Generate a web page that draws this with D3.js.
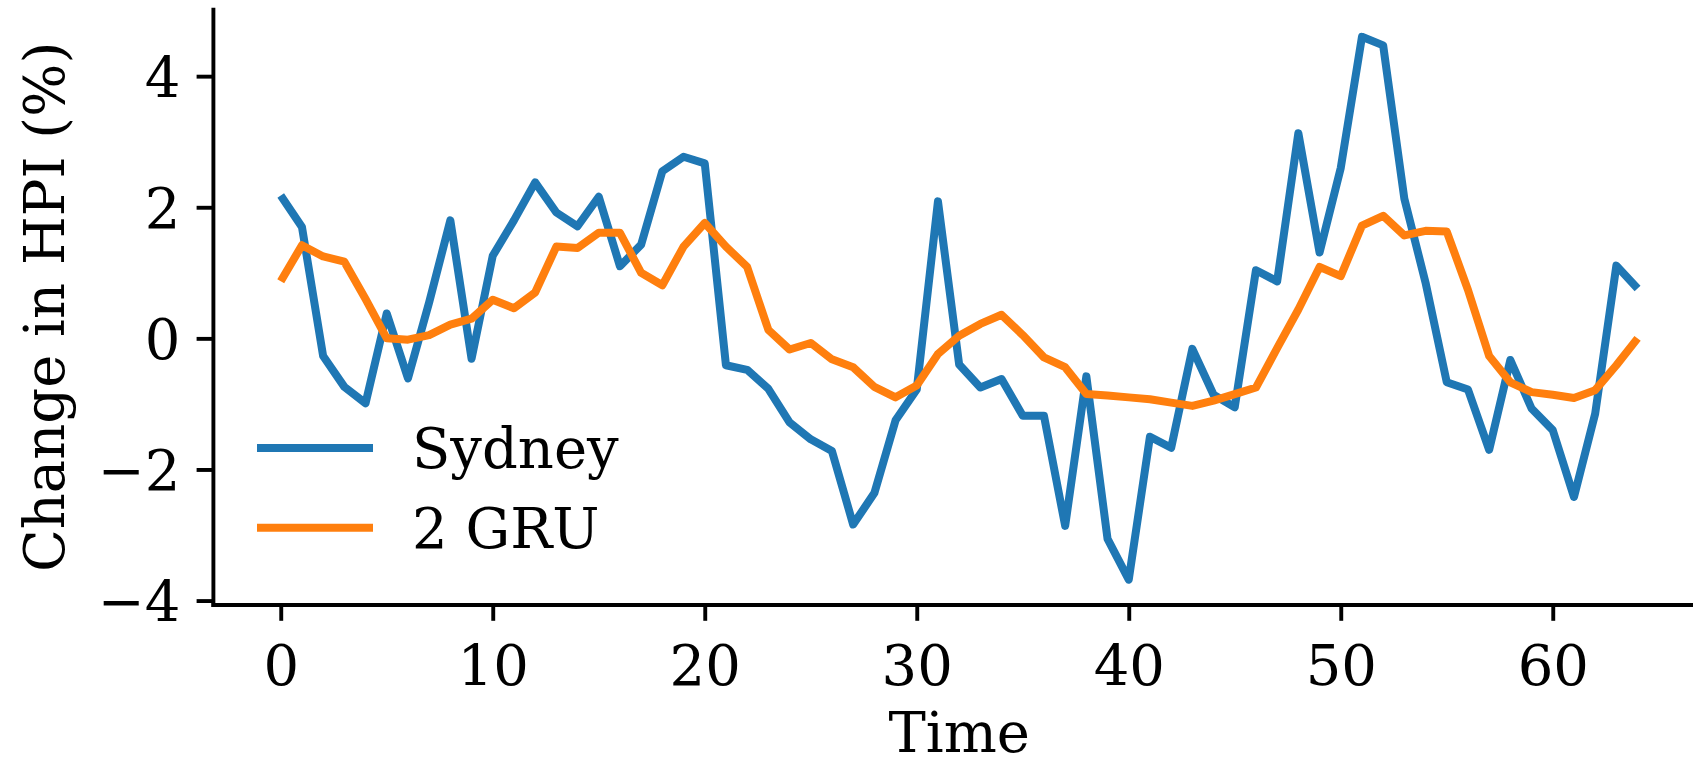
<!DOCTYPE html>
<html>
<head>
<meta charset="utf-8">
<script src="https://cdn.jsdelivr.net/npm/d3@7"></script>
<style>
  html, body { margin: 0; padding: 0; background: #ffffff; }
  svg { display: block; }
  text { font-family: "DejaVu Serif", serif; fill: #000; }
</style>
</head>
<body>
<svg id="chart" width="1693" height="765"></svg>
<script>
// ---- data ----
const seriesNames = ["Sydney", "2 GRU"];
const seriesColors = ["#1f77b4", "#ff7f0e"];
const sydney = [
  2.18, 1.70, -0.27, -0.74, -0.99, 0.38, -0.61, 0.55, 1.80, -0.31,
  1.26, 1.80, 2.38, 1.92, 1.71, 2.16, 1.10, 1.43, 2.55, 2.77,
  2.67, -0.41, -0.48, -0.77, -1.28, -1.54, -1.72, -2.84, -2.36, -1.25,
  -0.78, 2.09, -0.40, -0.75, -0.62, -1.18, -1.18, -2.86, -0.58, -3.06,
  -3.68, -1.50, -1.67, -0.16, -0.86, -1.05, 1.04, 0.87, 3.13, 1.31,
  2.60, 4.60, 4.47, 2.13, 0.85, -0.67, -0.78, -1.70, -0.33, -1.07,
  -1.40, -2.42, -1.15, 1.11, 0.76
];
const gru2 = [
  0.87, 1.42, 1.25, 1.17, 0.60, 0.00, -0.02, 0.05, 0.21, 0.30,
  0.59, 0.46, 0.70, 1.40, 1.38, 1.61, 1.61, 1.00, 0.81, 1.40,
  1.76, 1.40, 1.09, 0.13, -0.17, -0.07, -0.32, -0.44, -0.74, -0.90,
  -0.72, -0.24, 0.04, 0.22, 0.36, 0.05, -0.29, -0.44, -0.85, -0.87,
  -0.90, -0.93, -0.98, -1.03, -0.95, -0.85, -0.75, -0.15, 0.44, 1.09,
  0.95, 1.72, 1.87, 1.57, 1.64, 1.63, 0.74, -0.27, -0.67, -0.82,
  -0.86, -0.91, -0.79, -0.41, 0.00
];
const xTicks = [0, 10, 20, 30, 40, 50, 60];
const yTicks = [-4, -2, 0, 2, 4];
const xLabel = "Time";
const yLabel = "Change in HPI (%)";

// ---- layout ----
const FS = 56;
const LW = 8;
const SPINE = 3.9;
const TICK = 16.3;
const plotLeft = 212.9, plotRight = 1705.4, plotTop = 9.3, plotBottom = 604.5;

const svg = d3.select("#chart");
svg.append("rect").attr("width", 1693).attr("height", 765).attr("fill", "#fff");

const x = d3.scaleLinear().domain([-3.2, 67.2]).range([plotLeft, plotRight]);
const y = d3.scaleLinear().domain([-4.06, 5.02]).range([plotBottom, plotTop]);

const series = [sydney, gru2];

const line = d3.line()
  .x((d, i) => x(i))
  .y(d => y(d));

const g = svg.append("g");
series.forEach((vals, k) => {
  g.append("path")
    .datum(vals)
    .attr("d", line)
    .attr("fill", "none")
    .attr("stroke", seriesColors[k])
    .attr("stroke-width", LW)
    .attr("stroke-linejoin", "round")
    .attr("stroke-linecap", "butt");
});

// axes
const xAxis = d3.axisBottom(x).tickValues(xTicks).tickSize(TICK).tickSizeOuter(0).tickPadding(TICK)
  .tickFormat(d3.format("d"));
const yAxis = d3.axisLeft(y).tickValues(yTicks).tickSize(TICK).tickSizeOuter(0).tickPadding(TICK)
  .tickFormat(d3.format("d"));

const gx = svg.append("g").attr("transform", `translate(0,${plotBottom})`).call(xAxis);
const gy = svg.append("g").attr("transform", `translate(${plotLeft},0)`).call(yAxis);

[gx, gy].forEach(ax => {
  ax.select(".domain").attr("stroke", "#000").attr("stroke-width", SPINE).attr("stroke-linecap", "square");
  ax.selectAll(".tick line").attr("stroke", "#000").attr("stroke-width", SPINE);
  ax.selectAll(".tick text")
    .attr("font-family", "DejaVu Serif")
    .attr("font-size", FS)
    .attr("fill", "#000");
});
gx.selectAll(".tick text").attr("dy", null).attr("y", 80.5);
gy.selectAll(".tick text").attr("dy", null).attr("y", 20);

// axis labels
svg.append("text")
  .attr("x", (plotLeft + plotRight) / 2)
  .attr("y", 752)
  .attr("text-anchor", "middle")
  .attr("font-size", FS)
  .text(xLabel);

svg.append("text")
  .attr("transform", `translate(64,${(plotTop + plotBottom) / 2}) rotate(-90)`)
  .attr("text-anchor", "middle")
  .attr("font-size", FS)
  .text(yLabel);

// legend
const legY0 = 448.0, legStep = 79.7, legX0 = 257, legX1 = 373;
const leg = svg.append("g");
seriesNames.forEach((name, k) => {
  const yy = legY0 + k * legStep;
  leg.append("line")
    .attr("x1", legX0).attr("x2", legX1)
    .attr("y1", yy).attr("y2", yy)
    .attr("stroke", seriesColors[k])
    .attr("stroke-width", LW);
  leg.append("text")
    .attr("x", 412)
    .attr("y", yy + 20)
    .attr("font-size", FS)
    .text(name);
});
</script>
</body>
</html>
